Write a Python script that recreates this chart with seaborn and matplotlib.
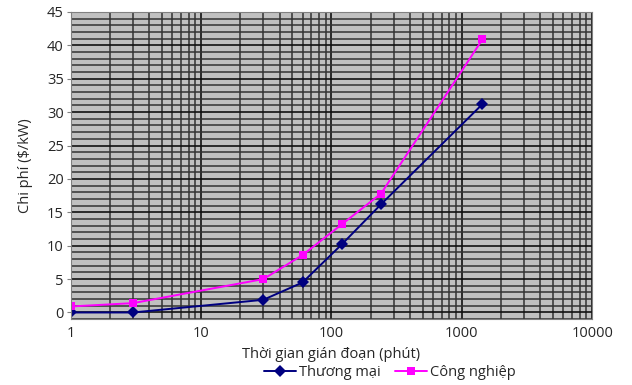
import pandas as pd
import numpy as np
import seaborn as sns
import matplotlib.pyplot as plt
from matplotlib.ticker import FixedLocator, NullFormatter, MultipleLocator

# thoi gian (phut) va chi phi ($/kW)
minutes = [1, 3, 30, 60, 120, 240, 1440]
thuong_mai = [0.0, 0.0, 1.9, 4.5, 10.2, 16.2, 31.2]
cong_nghiep = [0.9, 1.4, 5.0, 8.6, 13.2, 17.8, 40.9]
series_names = ['Thương mại', 'Công nghiệp']
x_ticks = [1, 10, 100, 1000, 10000]

df = pd.DataFrame({
    'x': minutes * 2,
    'y': thuong_mai + cong_nghiep,
    'series': [series_names[0]] * len(minutes) + [series_names[1]] * len(minutes),
})

sns.set_style('white')
plt.rcParams['font.family'] = ['Open Sans', 'DejaVu Sans']

fig = plt.figure(figsize=(6.32, 3.85), dpi=100)
ax = fig.add_axes([0.112, 0.171, 0.825, 0.798])
ax.set_facecolor('#C0C0C0')

sns.lineplot(
    data=df, x='x', y='y', hue='series', style='series',
    palette={series_names[0]: '#000080', series_names[1]: '#FF00FF'},
    markers={series_names[0]: 'D', series_names[1]: 's'},
    dashes=False, markersize=6, markeredgewidth=0, linewidth=1.4, ax=ax
)

ax.set_xscale('log')
ax.set_xlim(1, 10000)
ax.set_ylim(-1, 45)
ax.xaxis.set_major_locator(FixedLocator(x_ticks))
ax.set_xticklabels([str(t) for t in x_ticks])
minor_x = [m * 10 ** d for d in range(4) for m in range(2, 10)]
ax.xaxis.set_minor_locator(FixedLocator(minor_x))
ax.xaxis.set_minor_formatter(NullFormatter())
ax.yaxis.set_major_locator(FixedLocator(list(range(0, 46, 5))))
ax.yaxis.set_minor_locator(MultipleLocator(1))

ax.grid(which='major', color='#111111', linewidth=1.2)
ax.grid(which='minor', color='#333333', linewidth=1.1)
ax.set_axisbelow(True)

for s in ['top', 'right', 'left', 'bottom']:
    ax.spines[s].set_color('#808080')

ax.tick_params(axis='both', which='major', labelsize=10.5, length=3, color='#808080',
               left=True, bottom=False, pad=2)
ax.tick_params(axis='both', which='minor', length=0)

ax.set_xlabel('Thời gian gián đoạn (phút)', fontsize=10.5, labelpad=4)
ax.set_ylabel('Chi phí ($/kW)', fontsize=10.5, labelpad=10)

ax.legend(loc='center', bbox_to_anchor=(0.612, -0.173), ncol=2, frameon=False,
          fontsize=10.5, handlelength=2.2, handletextpad=0.2, columnspacing=1.0,
          borderaxespad=0, borderpad=0)

fig.savefig('out.png', dpi=100)
